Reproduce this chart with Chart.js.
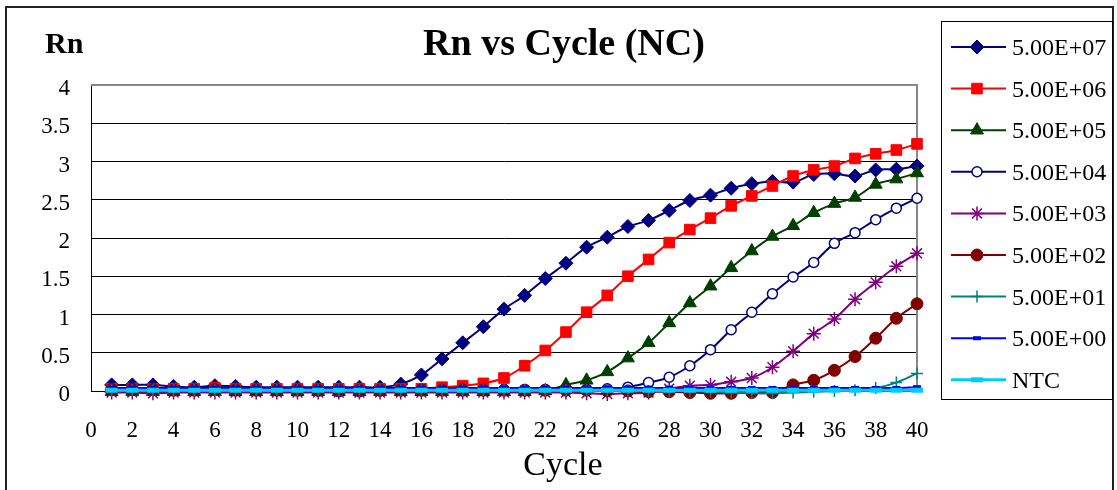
<!DOCTYPE html>
<html>
<head>
<meta charset="utf-8">
<script src="https://cdn.jsdelivr.net/npm/chart.js@4.4.1/dist/chart.umd.min.js"></script>
<style>
  html, body { margin: 0; padding: 0; background: #fff; }
  #wrap { width: 1117px; height: 490px; }
</style>
</head>
<body>
<div id="wrap"><canvas id="rn" width="1117" height="490"></canvas></div>
<script>
const cycles = [1, 2, 3, 4, 5, 6, 7, 8, 9, 10, 11, 12, 13, 14, 15, 16, 17, 18, 19, 20,
                21, 22, 23, 24, 25, 26, 27, 28, 29, 30, 31, 32, 33, 34, 35, 36, 37, 38, 39, 40];
const xTicks = [0, 2, 4, 6, 8, 10, 12, 14, 16, 18, 20, 22, 24, 26, 28, 30, 32, 34, 36, 38, 40];
const yTicks = [0, 0.5, 1, 1.5, 2, 2.5, 3, 3.5, 4];

const labels = ["5.00E+07", "5.00E+06", "5.00E+05", "5.00E+04", "5.00E+03",
                "5.00E+02", "5.00E+01", "5.00E+00", "NTC"];

const s5e7 = [0.08, 0.08, 0.08, 0.06, 0.05, 0.07, 0.06, 0.05, 0.05, 0.05, 0.05, 0.05, 0.05, 0.05,
              0.09, 0.21, 0.42, 0.63, 0.84, 1.07, 1.25, 1.47, 1.67, 1.88, 2.01, 2.15, 2.23, 2.36,
              2.49, 2.56, 2.65, 2.71, 2.74, 2.73, 2.83, 2.84, 2.81, 2.89, 2.90, 2.94];
const s5e6 = [0.03, 0.03, 0.03, 0.03, 0.03, 0.04, 0.03, 0.03, 0.03, 0.03, 0.03, 0.03, 0.03, 0.03,
              0.03, 0.03, 0.05, 0.07, 0.10, 0.17, 0.33, 0.53, 0.77, 1.03, 1.25, 1.50, 1.72, 1.94,
              2.11, 2.26, 2.42, 2.55, 2.68, 2.81, 2.89, 2.94, 3.04, 3.10, 3.15, 3.23];
const s5e5 = [-0.01, -0.01, -0.01, -0.01, -0.01, -0.01, -0.01, -0.01, -0.01, -0.01, -0.01, -0.01, -0.01, -0.01,
              -0.01, -0.01, -0.01, -0.01, -0.01, -0.01, -0.01, 0.00, 0.08, 0.14, 0.25, 0.43, 0.63, 0.89,
              1.15, 1.37, 1.61, 1.83, 2.02, 2.16, 2.33, 2.45, 2.53, 2.70, 2.77, 2.85];
const s5e4 = [0.02, 0.02, 0.02, 0.02, 0.02, 0.02, 0.02, 0.02, 0.02, 0.02, 0.00, -0.01, -0.01, 0.00,
              0.02, 0.02, 0.02, 0.02, 0.02, 0.02, 0.02, 0.02, 0.02, 0.02, 0.03, 0.05, 0.11, 0.18,
              0.33, 0.54, 0.80, 1.03, 1.27, 1.49, 1.68, 1.93, 2.07, 2.24, 2.39, 2.52];
const s5e3 = [-0.02, -0.02, -0.03, -0.02, -0.02, -0.02, -0.02, -0.02, -0.02, -0.02, -0.02, -0.02, -0.02, -0.02,
              -0.02, -0.02, -0.02, -0.02, -0.02, -0.02, -0.02, -0.02, -0.02, -0.03, -0.04, -0.03, -0.02, 0.03,
              0.07, 0.08, 0.12, 0.17, 0.31, 0.52, 0.75, 0.94, 1.20, 1.42, 1.63, 1.80];
const s5e2 = [0.02, 0.02, 0.02, 0.01, 0.01, 0.02, 0.01, 0.01, 0.01, 0.01, 0.01, 0.01, 0.01, 0.01,
              0.01, 0.01, 0.01, 0.01, 0.01, 0.01, 0.01, 0.01, 0.01, 0.01, 0.00, 0.00, -0.01, -0.01,
              -0.02, -0.03, -0.03, -0.02, -0.02, 0.08, 0.14, 0.27, 0.45, 0.69, 0.95, 1.14];
const s5e1 = [0.01, 0.01, 0.01, 0.01, 0.01, 0.01, 0.01, 0.01, 0.01, 0.01, 0.01, 0.01, 0.01, 0.01,
              0.01, 0.01, 0.01, 0.01, 0.01, 0.01, 0.01, 0.01, 0.01, 0.01, 0.01, 0.01, 0.00, 0.00,
              0.00, -0.01, -0.02, -0.03, -0.03, -0.02, -0.01, 0.00, 0.01, 0.04, 0.11, 0.23];
const s5e0 = [0.04, 0.04, 0.04, 0.04, 0.04, 0.04, 0.04, 0.04, 0.04, 0.04, 0.04, 0.04, 0.04, 0.04,
              0.04, 0.04, 0.04, 0.04, 0.04, 0.04, 0.04, 0.04, 0.04, 0.04, 0.04, 0.04, 0.04, 0.04,
              0.04, 0.04, 0.04, 0.04, 0.04, 0.04, 0.04, 0.04, 0.04, 0.04, 0.04, 0.05];
const ntc  = [0.01, 0.01, 0.01, 0.01, 0.01, 0.01, 0.01, 0.01, 0.01, 0.01, 0.01, 0.01, 0.01, 0.01,
              0.01, 0.01, 0.01, 0.01, 0.01, 0.01, 0.01, 0.01, 0.01, 0.01, 0.01, 0.01, 0.01, 0.01,
              0.01, 0.01, 0.01, 0.01, 0.01, 0.01, 0.01, 0.01, 0.01, 0.01, 0.01, 0.01];

const series = [s5e7, s5e6, s5e5, s5e4, s5e3, s5e2, s5e1, s5e0, ntc];

// marker look per series (Excel default-ish styles)
const looks = [
    { color: "#000080", fill: "#000080", style: "rectRot",  r: 7,   bw: 1,   lw: 2 },
    { color: "#ff0000", fill: "#ff0000", style: "rect",     r: 7.5, bw: 1,   lw: 2 },
    { color: "#003f00", fill: "#003f00", style: "triangle", r: 7.5, bw: 1,   lw: 2 },
    { color: "#000080", fill: "#ffffff", style: "circle",   r: 5,   bw: 1.5, lw: 2 },
    { color: "#800080", fill: "#800080", style: "star",     r: 7,   bw: 1.5, lw: 2 },
    { color: "#800000", fill: "#800000", style: "circle",   r: 6,   bw: 1,   lw: 2 },
    { color: "#008080", fill: "#008080", style: "cross",    r: 6,   bw: 1.5, lw: 2 },
    { color: "#0000ff", fill: "#0000ff", style: "line",     r: 4,   bw: 4,   lw: 2 },
    { color: "#00ccff", fill: "#00ccff", style: "line",     r: 6,   bw: 5,   lw: 3 }
];

const serif = "'Liberation Serif', 'Times New Roman', serif";

const datasets = series.map((vals, i) => ({
    label: labels[i],
    data: vals.map((v, k) => ({ x: cycles[k], y: v })),
    borderColor: looks[i].color,
    backgroundColor: looks[i].fill,
    borderWidth: looks[i].lw,
    pointStyle: looks[i].style,
    pointRadius: looks[i].r,
    pointBorderWidth: looks[i].bw,
    pointBorderColor: looks[i].color,
    pointBackgroundColor: looks[i].fill,
    tension: 0.35,
    clip: false,
    order: series.length - i
}));

// frame, titles, plot border and the boxed legend
const decor = {
    id: "decor",
    beforeDatasetsDraw(chart) {
        const { ctx, chartArea: a } = chart;
        ctx.save();
        ctx.strokeStyle = "#888";
        ctx.lineWidth = 2;
        ctx.beginPath();
        ctx.moveTo(a.left, a.top);
        ctx.lineTo(a.right, a.top);
        ctx.lineTo(a.right, a.bottom);
        ctx.stroke();
        ctx.restore();
    },
    afterDraw(chart) {
        const ctx = chart.ctx;
        ctx.save();
        ctx.strokeStyle = "#222";
        ctx.lineWidth = 2;
        ctx.strokeRect(6, 7, 1107, 500);

        ctx.fillStyle = "#000";
        ctx.textBaseline = "alphabetic";
        ctx.textAlign = "center";
        ctx.font = "bold 38px " + serif;
        ctx.fillText("Rn vs Cycle (NC)", 564, 55);
        ctx.textAlign = "left";
        ctx.font = "bold 30px " + serif;
        ctx.fillText("Rn", 45, 53);
        ctx.textAlign = "center";
        ctx.font = "34px " + serif;
        ctx.fillText("Cycle", 563, 475);

        // legend box
        ctx.lineWidth = 1;
        ctx.strokeStyle = "#000";
        ctx.strokeRect(941.5, 21.5, 171, 378);
        ctx.font = "24px " + serif;
        ctx.textAlign = "left";
        chart.data.datasets.forEach((ds, i) => {
            const y = 47 + i * 41.6;
            ctx.strokeStyle = ds.borderColor;
            ctx.lineWidth = ds.borderWidth;
            ctx.beginPath();
            ctx.moveTo(951, y);
            ctx.lineTo(1006, y);
            ctx.stroke();
            ctx.fillStyle = ds.pointBackgroundColor;
            ctx.strokeStyle = ds.pointBorderColor;
            ctx.lineWidth = ds.pointBorderWidth;
            Chart.helpers.drawPoint(ctx, {
                pointStyle: ds.pointStyle,
                radius: ds.pointRadius,
                rotation: 0,
                borderWidth: ds.pointBorderWidth
            }, 977, y);
            ctx.fillStyle = "#000";
            ctx.fillText(ds.label, 1012, y + 8);
        });
        ctx.restore();
    }
};

new Chart(document.getElementById("rn"), {
    type: "line",
    data: { datasets },
    options: {
        responsive: false,
        animation: false,
        devicePixelRatio: 1,
        layout: { padding: { left: 0, top: 85, right: 200, bottom: 0 } },
        plugins: {
            legend: { display: false },
            title: { display: false },
            tooltip: { enabled: false }
        },
        scales: {
            x: {
                type: "linear",
                min: 0,
                max: 40,
                afterBuildTicks: s => { s.ticks = xTicks.map(v => ({ value: v })); },
                afterFit: s => { s.height = 99; },
                grid: { color: "rgba(0,0,0,0)", drawTicks: false },
                border: { color: "#000", width: 1 },
                ticks: {
                    padding: 26,
                    color: "#000",
                    maxRotation: 0,
                    autoSkip: false,
                    font: { family: serif, size: 23 }
                }
            },
            y: {
                min: 0,
                max: 4,
                afterBuildTicks: s => { s.ticks = yTicks.map(v => ({ value: v })); },
                afterFit: s => { s.width = 91; },
                grid: {
                    color: c => (c.tick && c.tick.value === 4 ? "#888" : "#000"),
                    lineWidth: 1,
                    drawTicks: false
                },
                border: { color: "#000", width: 1 },
                ticks: {
                    padding: 21,
                    labelOffset: 4,
                    color: "#000",
                    font: { family: serif, size: 23 },
                    callback: v => String(v)
                }
            }
        }
    },
    plugins: [decor]
});
</script>
</body>
</html>
